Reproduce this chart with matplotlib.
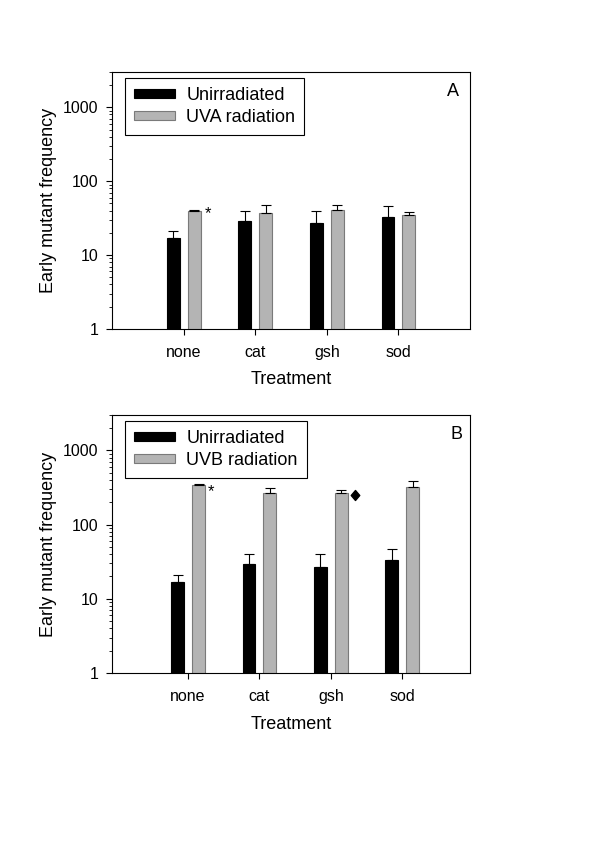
import matplotlib
matplotlib.use("Agg")
import matplotlib.pyplot as plt
import numpy as np
from matplotlib.path import Path
from matplotlib.ticker import LogLocator, NullFormatter, FixedLocator, FixedFormatter

plt.rcParams['font.family'] = ['Liberation Sans', 'DejaVu Sans']

categories = ["none", "cat", "gsh", "sod"]

unirr_a = [16.8, 29.1, 26.8, 33.0]
unirr_a_err = [4.1, 10.6, 12.9, 12.9]
uva = [39.7, 36.6, 40.2, 34.4]
uva_err = [0.8, 10.3, 7.7, 4.1]

unirr_b = [17.0, 29.2, 27.2, 33.1]
unirr_b_err = [4.2, 10.8, 12.8, 13.1]
uvb = [343, 264, 264, 319]
uvb_err = [14, 45, 29, 69]

yticks = [1, 10, 100, 1000]
ytick_labels = ["1", "10", "100", "1000"]

fig = plt.figure(figsize=(6, 8.49), dpi=100)

BLACK = "#000000"
GRAY = "#b4b4b4"
GRAY_EDGE = "#7a7a7a"

W = 0.18
OFF = 0.146

diamond = Path([(0, 1), (0.85, 0), (0, -1), (-0.85, 0), (0, 1)],
               [Path.MOVETO, Path.LINETO, Path.LINETO, Path.LINETO, Path.CLOSEPOLY])


def panel(rect, xlim, unirr, unirr_err, irr, irr_err, irr_label, letter, letter_xy, leg_anchor):
    ax = fig.add_axes(rect)
    x = np.arange(1, len(categories) + 1)
    ax.bar(x - OFF, unirr, width=W, color=BLACK, edgecolor=BLACK, linewidth=0.8,
           label="Unirradiated", zorder=2)
    ax.bar(x + OFF, irr, width=W, color=GRAY, edgecolor=GRAY_EDGE, linewidth=0.8,
           label=irr_label, zorder=2)
    ax.errorbar(x - OFF, unirr, yerr=[np.zeros(len(unirr)), unirr_err], fmt="none",
                ecolor=BLACK, elinewidth=0.8, capsize=3.5, capthick=0.8, zorder=3)
    ax.errorbar(x + OFF, irr, yerr=[np.zeros(len(irr)), irr_err], fmt="none",
                ecolor=BLACK, elinewidth=0.8, capsize=3.5, capthick=0.8, zorder=3)
    ax.set_yscale("log")
    ax.set_ylim(1, 3000)
    ax.set_xlim(*xlim)
    ax.yaxis.set_major_locator(FixedLocator(yticks))
    ax.yaxis.set_major_formatter(FixedFormatter(ytick_labels))
    ax.yaxis.set_minor_locator(LogLocator(base=10, subs=np.arange(2, 10)))
    ax.yaxis.set_minor_formatter(NullFormatter())
    ax.set_xticks(x)
    ax.set_xticklabels(categories)
    ax.tick_params(axis="both", which="major", labelsize=11.5, length=4, width=0.8,
                   direction="out")
    ax.tick_params(axis="y", which="major", pad=5.8)
    ax.tick_params(axis="y", which="minor", length=2, width=0.6)
    ax.tick_params(axis="x", pad=7.3)
    for s in ax.spines.values():
        s.set_linewidth(0.8)
    ax.set_xlabel("Treatment", fontsize=13, labelpad=8.5)
    ax.set_ylabel("Early mutant frequency", fontsize=13, labelpad=4)
    leg = ax.legend(loc="upper left", bbox_to_anchor=leg_anchor, fontsize=13,
                    frameon=True, fancybox=False, edgecolor="black", framealpha=1,
                    handlelength=2.3, handleheight=0.4, borderaxespad=0.0,
                    borderpad=0.5, labelspacing=0.3, handletextpad=0.6)
    leg.get_frame().set_linewidth(0.8)
    ax.text(letter_xy[0], letter_xy[1], letter, transform=ax.transAxes, fontsize=13,
            ha="center", va="center")
    return ax, x


axA, xA = panel([0.1867, 0.6125, 0.5967, 0.3027], (0, 5), unirr_a, unirr_a_err,
                uva, uva_err, "UVA radiation", "A", (0.9525, 0.926), (0.036, 0.977))
axA.annotate("*", xy=(xA[0] + OFF + W / 2, uva[0]), xytext=(5.4, -2.0),
             textcoords="offset points", fontsize=12, ha="center", va="center")

axB, xB = panel([0.1867, 0.2073, 0.5967, 0.3039], (-0.066, 4.95), unirr_b, unirr_b_err,
                uvb, uvb_err, "UVB radiation", "B", (0.962, 0.926), (0.036, 0.977))
axB.annotate("*", xy=(xB[0] + OFF + W / 2, uvb[0]), xytext=(4.0, -5.0),
             textcoords="offset points", fontsize=12, ha="center", va="center")
axB.plot([xB[2] + OFF + 0.19], [uvb[2] * 0.96], marker=diamond, color="black",
         markersize=7.2, linestyle="none")

fig.savefig("out.png", dpi=100)
